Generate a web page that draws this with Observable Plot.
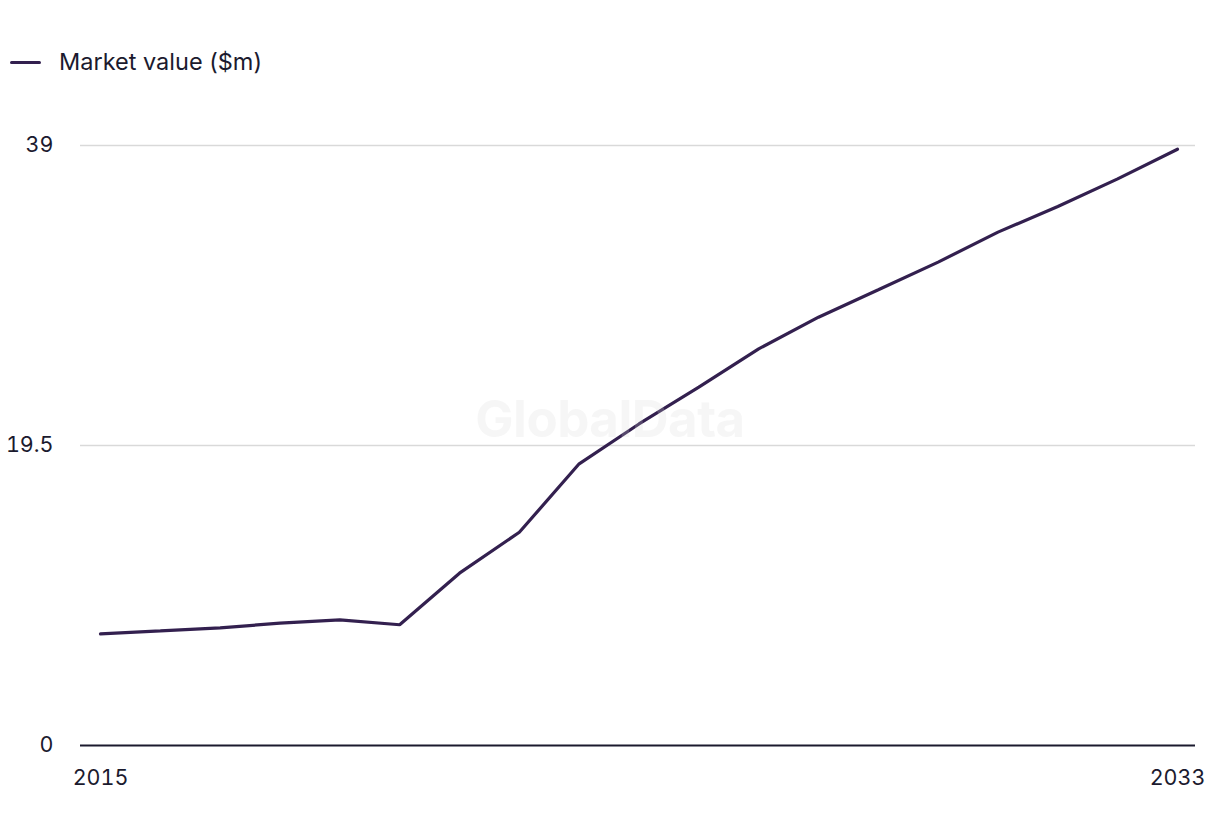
<!DOCTYPE html>
<html>
<head>
<meta charset="utf-8">
<script src="https://cdn.jsdelivr.net/npm/d3@7"></script>
<script src="https://cdn.jsdelivr.net/npm/@observablehq/plot@0.6"></script>
<style>
  html, body { margin: 0; padding: 0; background: #fff; width: 1220px; height: 836px; overflow: hidden; }
  body { font-family: "Inter", "Liberation Sans", sans-serif; color: #1b1a2e; position: relative; }
  #legend { height: 100px; box-sizing: border-box; padding-top: 47px; padding-left: 10px; display: flex; align-items: flex-start; }
  #legend .sw { width: 31px; height: 3.5px; background: #33204f; border-radius: 2px; margin-top: 13.5px; margin-right: 18px; }
  #legend .lb { font-size: 23.5px; line-height: 30px; }
  #wm { position: absolute; left: 50%; top: 50%; transform: translate(-50%, -50%); font-size: 51px; font-weight: 700; color: rgba(215,215,215,0.22); pointer-events: none; font-family: "Inter", "Liberation Sans", sans-serif; letter-spacing: -0.5px; }
</style>
</head>
<body>
<div id="legend"><div class="sw"></div><div class="lb">Market value ($m)</div></div>
<div id="chart"></div>
<div id="wm">GlobalData</div>
<script>
const years = [2015, 2016, 2017, 2018, 2019, 2020, 2021, 2022, 2023, 2024, 2025, 2026, 2027, 2028, 2029, 2030, 2031, 2032, 2033];
const marketValue = [7.26, 7.45, 7.65, 7.95, 8.17, 7.85, 11.2, 13.86, 18.31, 20.9, 23.29, 25.78, 27.84, 29.62, 31.42, 33.37, 35.03, 36.83, 38.76];
const yTicks = [0, 19.5, 39];
const xTicks = [2015, 2033];
const seriesName = "Market value ($m)";

const data = years.map((y, i) => ({ year: y, value: marketValue[i], series: seriesName }));

const chart = Plot.plot({
  width: 1220,
  height: 736,
  marginLeft: 80,
  marginRight: 25,
  marginTop: 45,
  marginBottom: 91,
  insetLeft: 20,
  insetRight: 18,
  style: { fontFamily: "Inter, 'Liberation Sans', sans-serif", fontSize: "21.5px", color: "#1b1a2e", background: "#fff" },
  x: { domain: [2015, 2033], label: null },
  y: { domain: [0, 39], label: null },
  marks: [
    Plot.gridY(yTicks.filter(d => d > 0), { stroke: "#d9d9d9", strokeOpacity: 1, strokeWidth: 1.5 }),
    Plot.axisY(yTicks, { tickSize: 0, tickPadding: 27, fontSize: 21.5, fill: "#1b1a2e", label: null, tickFormat: d => String(d) }),
    Plot.axisX(xTicks, { tickSize: 0, tickPadding: 24, fontSize: 21.5, fill: "#1b1a2e", label: null, tickFormat: d => String(d) }),
    Plot.ruleY([0], { stroke: "#1b1a2e", strokeWidth: 2 }),
    Plot.line(data, { x: "year", y: "value", stroke: "#33204f", strokeWidth: 3.2, strokeLinejoin: "miter" })
  ]
});
document.getElementById("chart").appendChild(chart);
</script>
</body>
</html>
